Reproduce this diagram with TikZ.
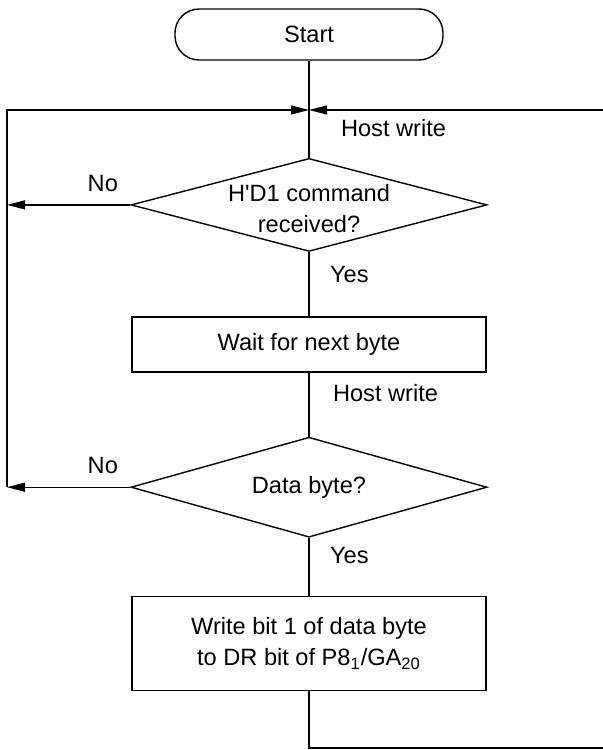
\documentclass[tikz,border=0pt]{standalone}
\usepackage{fontspec}
\setmainfont{Liberation Sans}
\usetikzlibrary{arrows.meta,positioning,shapes.geometric}

\begin{document}
\begin{tikzpicture}[>={Triangle[length=9pt,width=4.5pt]},
  every node/.style={font=\fontsize{11.8}{15.5}\selectfont},
  line/.style={line width=0.6pt},
  procbox/.style={draw,line width=0.7pt,minimum width=177pt,align=center,inner sep=0pt},
  decision/.style={draw,diamond,line width=0.7pt,minimum width=178pt,inner sep=0pt}]
  \useasboundingbox (0pt,0pt) rectangle (301.5pt,-375pt);
  \node[draw,line width=0.7pt,rounded corners=12pt,minimum width=134pt,minimum height=25.5pt]
    (start) at (154.5pt,-17.25pt) {Start};
  \node[decision,minimum height=46.5pt,below=48.5pt of start,
    label={[align=center,yshift=-2pt]center:H\textquotesingle D1 command\\received?}] (cmd) {};
  \node[procbox,minimum height=27.5pt,below=32pt of cmd] (wait) {Wait for next byte};
  \node[decision,minimum height=50pt,below=32pt of wait,
    label={center:Data byte?}] (data) {};
  \node[procbox,minimum height=47pt,below=29pt of data]
    (write) {Write bit 1 of data byte\\to DR bit of P8\textsubscript{1}/GA\textsubscript{20}};
  % junction and loop ends
  \coordinate (join) at (start.south |- 0pt,-55pt);
  \coordinate (loopL) at (3.5pt,-55pt);
  \coordinate (loopR) at (301.5pt,-55pt);
  \coordinate (exit) at (301.5pt,-374pt);
  \draw[line] (start) -- (cmd);
  \draw[line] (cmd) -- (wait);
  \draw[line] (wait) -- (data);
  \draw[line] (data) -- (write);
  \draw[line] (write) |- (exit);
  \draw[line,->] (cmd.west) -- (cmd.west -| loopL);
  \draw[line,->] (data.west) -- (data.west -| loopL);
  \draw[line,->] (data.west -| loopL) -- (loopL) -- (join);
  \draw[line,->] (loopR) -- (join);
  % labels
  \node[anchor=west] (hw1) at ([xshift=12.5pt,yshift=-9pt]join) {Host write};
  \node (no1) at ([xshift=-13.75pt,yshift=10.5pt]cmd.west) {No};
  \node[anchor=west] (yes1) at ([xshift=7pt,yshift=-11pt]cmd.south) {Yes};
  \node[anchor=west] (hw2) at ([xshift=8.5pt,yshift=-10.5pt]wait.south) {Host write};
  \node (no2) at ([xshift=-13.75pt,yshift=11pt]data.west) {No};
  \node[anchor=west] (yes2) at ([xshift=7pt,yshift=-9pt]data.south) {Yes};
\end{tikzpicture}
\end{document}
